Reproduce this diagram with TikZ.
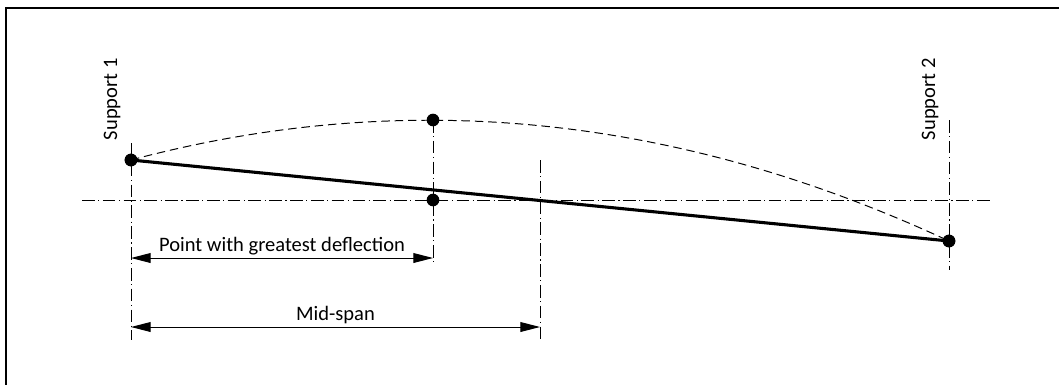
\documentclass[tikz,border=0pt]{standalone}
\usepackage{fontspec}
\setmainfont{Carlito}
\usetikzlibrary{arrows.meta}

\begin{document}
\begin{tikzpicture}[x=0.025cm, y=-0.025cm,
    every node/.style={font=\fontsize{14.6}{17}\selectfont},
    dot/.style={circle, fill=black, inner sep=0pt, minimum size=9pt},
    beam/.style={line width=2.2pt},
    bentline/.style={line width=0.7pt, dash pattern=on 6pt off 3.5pt},
    axisline/.style={line width=0.7pt, dash pattern=on 9pt off 2.5pt on 0.8pt off 2.5pt},
    dimline/.style={line width=0.7pt, {Triangle[length=14pt,width=7pt]}-{Triangle[length=14pt,width=7pt]}}]
    \useasboundingbox (0,0) rectangle (1059,384);
    % frame, only top and left edges inside the page
    \draw[line width=1.5pt] (6,400) -- (6,8) -- (1080,8);
    % support points and deflection points
    \node[dot] (sup1) at (131,160) {};
    \node[dot] (sup2) at (949,241) {};
    \node[dot] (maxdef) at (433,120) {};
    \node[dot] (axdef) at (433,200) {};
    % centre lines
    \coordinate (axL) at (82,200);
    \coordinate (axR) at (990,200);
    \coordinate (s1top) at (131,143);
    \coordinate (s1bot) at (131,340);
    \coordinate (mdbot) at (433,265);
    \coordinate (midtop) at (540,160);
    \coordinate (midbot) at (540,340);
    \coordinate (s2top) at (949,120);
    \coordinate (s2bot) at (949,270);
    \draw[axisline] (axL) -- (axR);
    \draw[axisline] (s1top) -- (s1bot);
    \draw[axisline] (maxdef.center) -- (mdbot);
    \draw[axisline] (midtop) -- (midbot);
    \draw[axisline] (s2top) -- (s2bot);
    % beam and bent line
    \draw[bentline] (sup1.center) .. controls (403.7,87.3) and (676.3,114.3) .. (sup2.center);
    \draw[beam] (sup1.center) -- (sup2.center);
    \node[dot] at (sup1) {};
    \node[dot] at (sup2) {};
    % labels
    \node[rotate=90, anchor=west] (lab1) at (112,145) {Support 1};
    \node[rotate=90, anchor=west] (lab2) at (930,145) {Support 2};
    % dimensions
    \coordinate (d1L) at (131,258);
    \coordinate (d1R) at (433,258);
    \coordinate (d2L) at (131,327);
    \coordinate (d2R) at (540,327);
    \draw[dimline] (d1L) -- (d1R) node[midway, above, inner sep=2pt] (dimlab1) {Point with greatest deflection};
    \draw[dimline] (d2L) -- (d2R) node[midway, above, inner sep=2pt] (dimlab2) {Mid-span};
\end{tikzpicture}
\end{document}
